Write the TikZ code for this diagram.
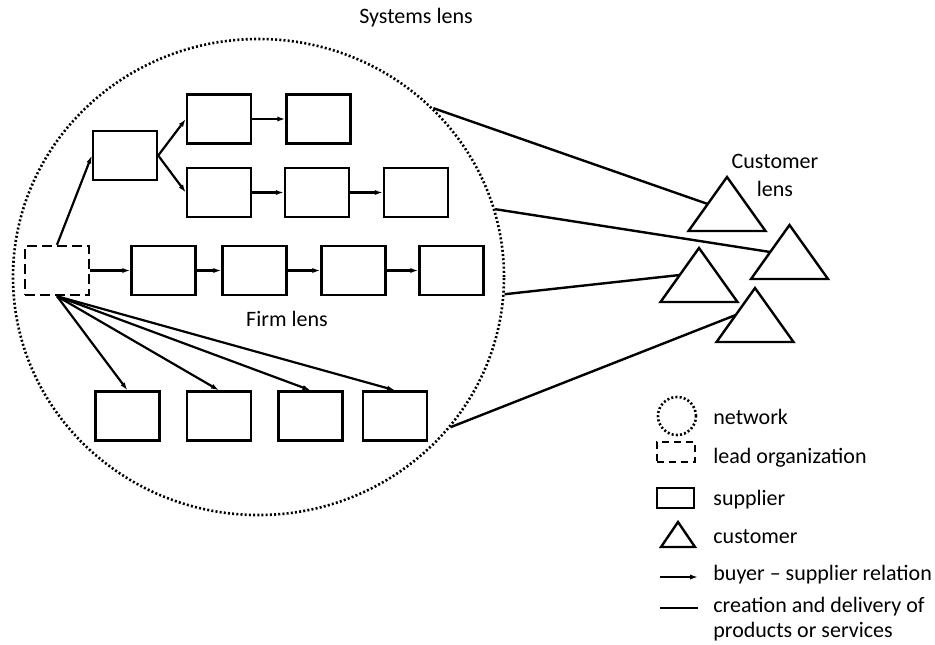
\documentclass[tikz,border=0pt]{standalone}
\usepackage{fontspec}
\setmainfont{Carlito}
\usetikzlibrary{shapes.geometric, arrows.meta, positioning}

\begin{document}
\begin{tikzpicture}[
    x=0.5pt, y=-0.5pt,
    font=\fontsize{11}{14}\selectfont,
    sup/.style={rectangle, draw, line width=1.2pt, minimum width=32pt, minimum height=24.5pt, inner sep=0pt},
    lead/.style={sup, dash pattern=on 5pt off 2.5pt},
    buys/.style={-{Latex[length=4pt,width=2.6pt]}, line width=1.1pt},
    link/.style={line width=1.2pt},
    cust/.style={line width=1.2pt, line join=miter},
    lens/.style={draw, dash pattern=on 1pt off 1.1pt, line width=1.3pt},
    key/.style={anchor=base west, inner sep=0pt}
]
    \useasboundingbox (0,0) rectangle (935,644);

    % network (systems lens)
    \node[ellipse, lens, minimum width=245.5pt, minimum height=238pt, inner sep=0pt] (net) at (258.5,277) {};
    \node[anchor=base] (syslens) at (416,23) {Systems lens};
    \node[anchor=base] (firmlens) at (287,326) {Firm lens};

    % lead organization and suppliers
    \node[lead] (lead) at (57,270.5) {};
    \node[sup] (a) at (125,155.5) {};
    \node[sup] (b1) at (219,119) {};
    \node[sup] (b2) at (318.5,119) {};
    \node[sup] (c1) at (219,192.5) {};
    \node[sup] (c2) at (317,192.5) {};
    \node[sup] (c3) at (416,192.5) {};
    \node[sup] (d1) at (163.5,270.5) {};
    \node[sup] (d2) at (254.5,270.5) {};
    \node[sup] (d3) at (353.5,270.5) {};
    \node[sup] (d4) at (451.5,270.5) {};
    \node[sup] (e1) at (127.5,416) {};
    \node[sup] (e2) at (219,416) {};
    \node[sup] (e3) at (310.5,416) {};
    \node[sup] (e4) at (395,416) {};

    \draw[buys] (lead.north) -- (a.west);
    \draw[buys] (a.east) -- (b1.west);
    \draw[buys] (a.east) -- (c1.west);
    \draw[buys] (b1) -- (b2);
    \draw[buys] (c1) -- (c2);
    \draw[buys] (c2) -- (c3);
    \draw[buys] (lead) -- (d1);
    \draw[buys] (d1) -- (d2);
    \draw[buys] (d2) -- (d3);
    \draw[buys] (d3) -- (d4);
    \foreach \e in {e1,e2,e3,e4}
        \draw[buys] (lead.south) -- (\e.north);

    % customers
    \foreach \n/\x/\y in {t1/727/231, t2/789.5/279, t3/699/302, t4/755/342}
        \draw[cust] (\x-38.5,\y) -- coordinate (\n) (\x,\y-54) -- (\x+38.5,\y) -- cycle;
    \node[align=center] (custlens) at (775,175) {Customer\\lens};

    \draw[link] (net.44) -- (t1);
    \draw[link] (net.16.6) -- (t2);
    \draw[link] (net.-4) -- (t3);
    \draw[link] (net.-38) -- (t4);

    % legend
    \node[circle, lens, minimum size=19pt, inner sep=0pt] (lnet) at (677,416) {};
    \node[lead, dash pattern=on 3.5pt off 2.5pt, minimum width=19pt, minimum height=10pt] (llead) at (676,452) {};
    \node[sup, minimum width=18.5pt, minimum height=10pt] (lsup) at (675.5,498) {};
    \draw[cust] (661,547) -- (678,522) -- (695,547) -- cycle;
    \coordinate (la0) at (660,577);
    \coordinate (la1) at (698,577);
    \draw[buys] (la0) -- (la1);
    \coordinate (ll0) at (660,608);
    \coordinate (ll1) at (698,608);
    \draw[link] (ll0) -- (ll1);

    \node[key] (tnet) at (713,424) {network};
    \node[key] (tlead) at (713,463) {lead organization};
    \node[key] (tsup) at (713,505) {supplier};
    \node[key] (tcust) at (713,543) {customer};
    \node[key] (tbuy) at (713,580) {buyer – supplier relation};
    \node[key] (tlink) at (713,612) {creation and delivery of};
    \node[key] (tlink2) at (713,637) {products or services};
\end{tikzpicture}
\end{document}
